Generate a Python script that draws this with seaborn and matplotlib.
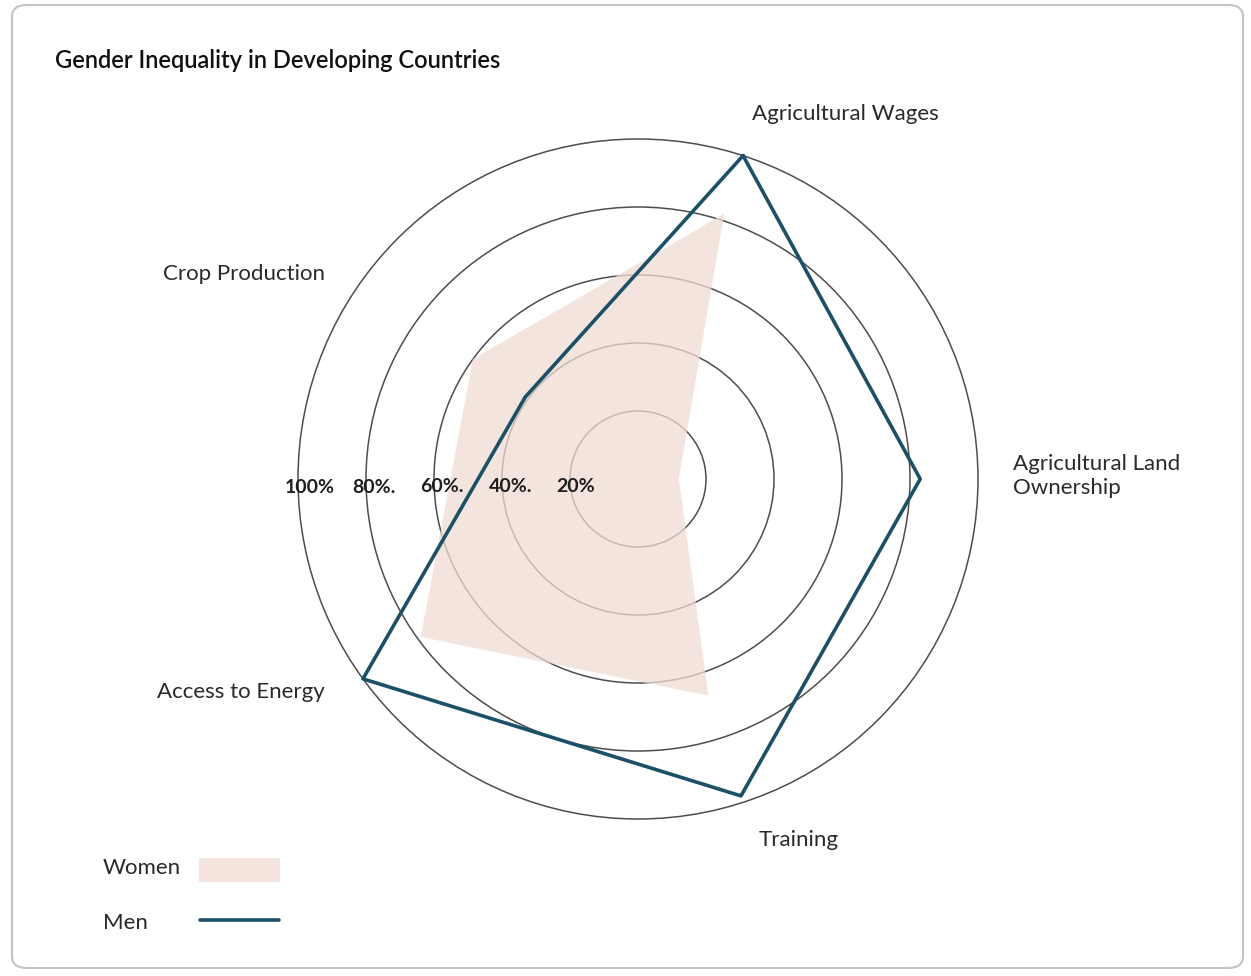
import numpy as np
import pandas as pd
import seaborn as sns
import matplotlib.pyplot as plt
from matplotlib.patches import FancyBboxPatch, Rectangle, Circle
from matplotlib.lines import Line2D
import matplotlib.transforms as mtransforms

# radar data (percent)
categories = ["Agricultural Wages", "Agricultural Land\nOwnership", "Training",
              "Access to Energy", "Crop Production"]
women = [82, 12, 67, 79, 60]
men = [100, 83, 98, 100, 41]
ring_values = [20, 40, 60, 80, 100]
ring_labels = ["20%", "40%.", "60%.", "80%.", "100%"]

sns.set_theme(style="white")
plt.rcParams["font.family"] = ["Lato", "DejaVu Sans"]

W, H = 1251, 976
fig = plt.figure(figsize=(W / 100, H / 100), dpi=100)

def fx(px):
    return px / W

def fy(py):
    return 1 - py / H

# polar axes: centre (638, 479) px, 100% ring at 340 px
rmax = 104
cx, cy, rad = 638, 479, 340 * rmax / 100
ax = fig.add_axes([fx(cx - rad), fy(cy + rad), 2 * rad / W, 2 * rad / H], projection="polar")
ax.set_theta_zero_location("N")
ax.set_theta_direction(-1)
ax.set_ylim(0, rmax)
ax.set_facecolor("none")

theta = np.deg2rad(18 + 72 * np.arange(len(categories)))
theta_c = np.append(theta, theta[0])

# no default grid; rings drawn as circles in axes space (axes is square in pixels)
ax.set_xticks([])
ax.set_yticks([])
ax.grid(False)
ax.spines["polar"].set_visible(False)
for rv in ring_values:
    ax.add_patch(Circle((0.5, 0.5), rv / (2 * rmax), transform=ax.transAxes, fill=False,
                        edgecolor="#4d4d4d", lw=1.1, zorder=1))

# women fill
ax.fill(theta_c, np.append(women, women[0]), color="#f0ddd2", alpha=0.75, lw=0, zorder=2)

# men outline
df_men = pd.DataFrame({"theta": theta_c, "r": np.append(men, men[0])})
sns.lineplot(data=df_men, x="theta", y="r", sort=False, estimator=None,
             color="#1a5068", lw=2.6, ax=ax, zorder=3)
ax.set_xlabel("")
ax.set_ylabel("")

# ring labels along the west direction
off = mtransforms.offset_copy(ax.transData, fig=fig, x=0, y=-8, units="dots")
for rv, lab in zip(ring_values, ring_labels):
    ax.text(np.deg2rad(270), rv + 4, lab, ha="left", va="center", fontsize=14,
            fontweight="bold", color="#1e1e1e", transform=off, zorder=4)

# category labels
txt = "#2a2a2a"
fs = 16
fig.text(fx(845), fy(114), categories[0], ha="center", va="center", fontsize=fs, color=txt)
fig.text(fx(1013), fy(476), categories[1], ha="left", va="center", fontsize=fs,
         color=txt, linespacing=1.25)
fig.text(fx(799), fy(840), categories[2], ha="center", va="center", fontsize=fs, color=txt)
fig.text(fx(325), fy(692), categories[3], ha="right", va="center", fontsize=fs, color=txt)
fig.text(fx(325), fy(274), categories[4], ha="right", va="center", fontsize=fs, color=txt)

# title
fig.text(fx(55), fy(61), "Gender Inequality in Developing Countries", ha="left", va="center",
         fontsize=17, fontweight="semibold", color="#111111")

# legend
fig.text(fx(103), fy(868), "Women", ha="left", va="center", fontsize=fs, color=txt)
fig.text(fx(103), fy(923), "Men", ha="left", va="center", fontsize=fs, color=txt)
fig.patches.append(Rectangle((fx(199), fy(882)), fx(81), 24 / H, transform=fig.transFigure,
                             facecolor="#f0ddd2", alpha=0.75, edgecolor="none"))
fig.lines.append(Line2D([fx(200), fx(279)], [fy(920), fy(920)], transform=fig.transFigure,
                        color="#1a5068", lw=2.6))

# rounded frame
fig.patches.append(FancyBboxPatch((fx(12), fy(968)), fx(1231), (968 - 5) / H,
                                  boxstyle="round,pad=0,rounding_size=0.012",
                                  transform=fig.transFigure, facecolor="none",
                                  edgecolor="#c4c4c4", lw=1.5))

fig.savefig("out.png", dpi=100)
